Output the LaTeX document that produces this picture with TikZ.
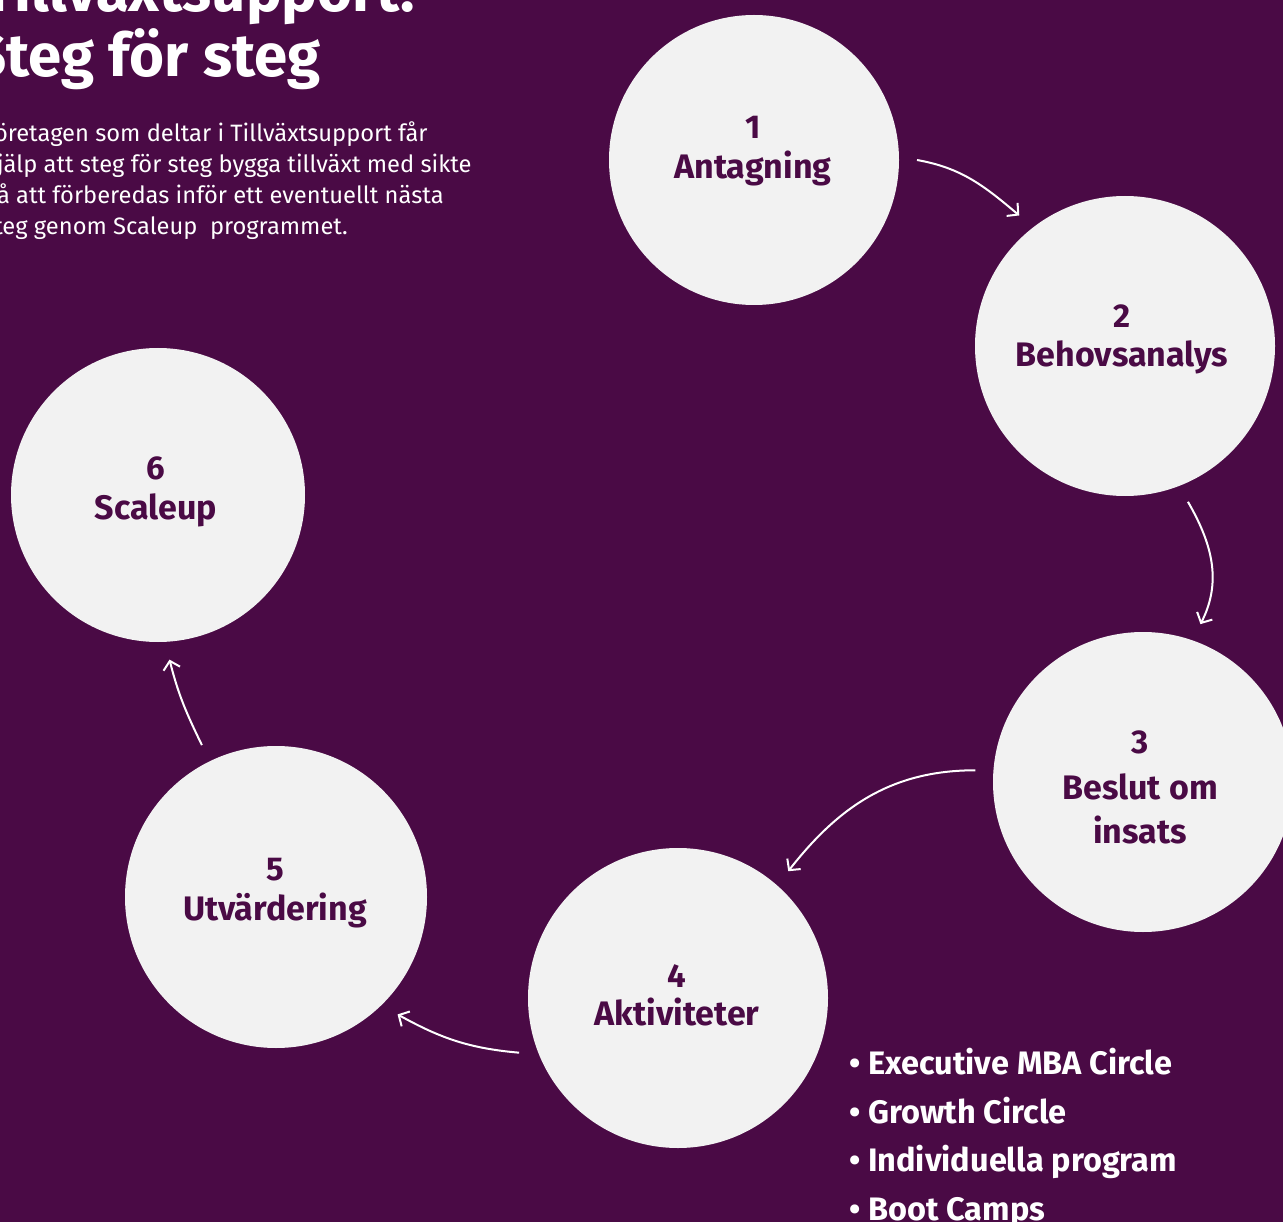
\documentclass[tikz,border=0pt]{standalone}
\usepackage{fontspec}
\setmainfont{Fira Sans}[Ligatures=NoCommon]
\usetikzlibrary{arrows.meta}
\definecolor{bgpurple}{RGB}{74,10,69}
\definecolor{circlegrey}{RGB}{242,242,242}

\begin{document}
\begin{tikzpicture}[x=1pt, y=1pt,
    stepcircle/.style={circle, fill=circlegrey, inner sep=0pt, outer sep=18pt},
    stepnum/.style={anchor=base, text=bgpurple, font=\fontsize{33}{40}\selectfont\bfseries},
    stepname/.style={anchor=base, text=bgpurple, align=center, font=\fontsize{34}{44}\selectfont\bfseries},
    titletext/.style={text=white, inner sep=0pt, font=\fontsize{60}{66}\selectfont\bfseries},
    bodytext/.style={text=white, inner sep=0pt, align=left, font=\fontsize{23.7}{31}\selectfont},
    listtext/.style={text=white, inner sep=0pt, align=left, font=\fontsize{32.5}{48.5}\selectfont\bfseries},
    flow/.style={draw=white, line width=2pt, -{Straight Barb[length=8pt,width=17pt]}}]
    \useasboundingbox (0,0) rectangle (1283,-1222);
    \clip (0,0) rectangle (1283,-1222);
    \fill[bgpurple] (0,0) rectangle (1283,-1222);

    % Title and intro
    \node[titletext, anchor=base east] (title1) at (415,-12) {Tillväxtsupport:};
    \node[titletext, anchor=base west] (title2) at (-28,-77) {Steg för steg};
    \node[bodytext, anchor=base west] (intro) at (-17,-235) {Företagen som deltar i Tillväxtsupport får\\
        hjälp att steg för steg bygga tillväxt med sikte\\
        på att förberedas inför ett eventuellt nästa\\
        steg genom Scaleup\ \ programmet.};

    % Steps
    \node[stepcircle, minimum size=290pt] (c1) at (754,-160) {};
    \node[stepcircle, minimum size=300pt] (c2) at (1125,-346) {};
    \node[stepcircle, minimum size=300pt] (c3) at (1143,-782) {};
    \node[stepcircle, minimum size=300pt] (c4) at (678,-998) {};
    \node[stepcircle, minimum size=302pt] (c5) at (276,-897) {};
    \node[stepcircle, minimum size=294pt] (c6) at (158,-495) {};

    \node[stepnum] (n1) at (753,-139) {1};
    \node[stepname] (l1) at (753,-179) {Antagning};
    \node[stepnum] (n2) at (1122,-328) {2};
    \node[stepname] (l2) at (1122,-367) {Behovsanalys};
    \node[stepnum] (n3) at (1140,-753) {3};
    \node[stepname] (l3) at (1140,-843) {Beslut om\\insats};
    \node[stepnum] (n4) at (677,-987) {4};
    \node[stepname] (l4) at (677,-1025) {Aktiviteter};
    \node[stepnum] (n5) at (275,-880) {5};
    \node[stepname] (l5) at (275,-920) {Utvärdering};
    \node[stepnum] (n6) at (156,-479) {6};
    \node[stepname] (l6) at (156,-519) {Scaleup};

    % Arrows
    \draw[flow] (c1.0) to[out=-10, in=140] (c2.129);
    \draw[flow] (c2.-68) to[out=-60, in=63] (c3.70);
    \draw[flow] (c3.176) to[out=180, in=52] (c4.49);
    \draw[flow] (c4.199) to[out=175, in=-29] (c5.-44);
    \draw[flow] (c5.116) to[out=116, in=-76] (c6.-86);

    % Activities
    \node[listtext, anchor=base west] (acts) at (849,-1220) {• Executive MBA Circle\\
        • Growth Circle\\
        • Individuella program\\
        • Boot Camps};
\end{tikzpicture}
\end{document}
